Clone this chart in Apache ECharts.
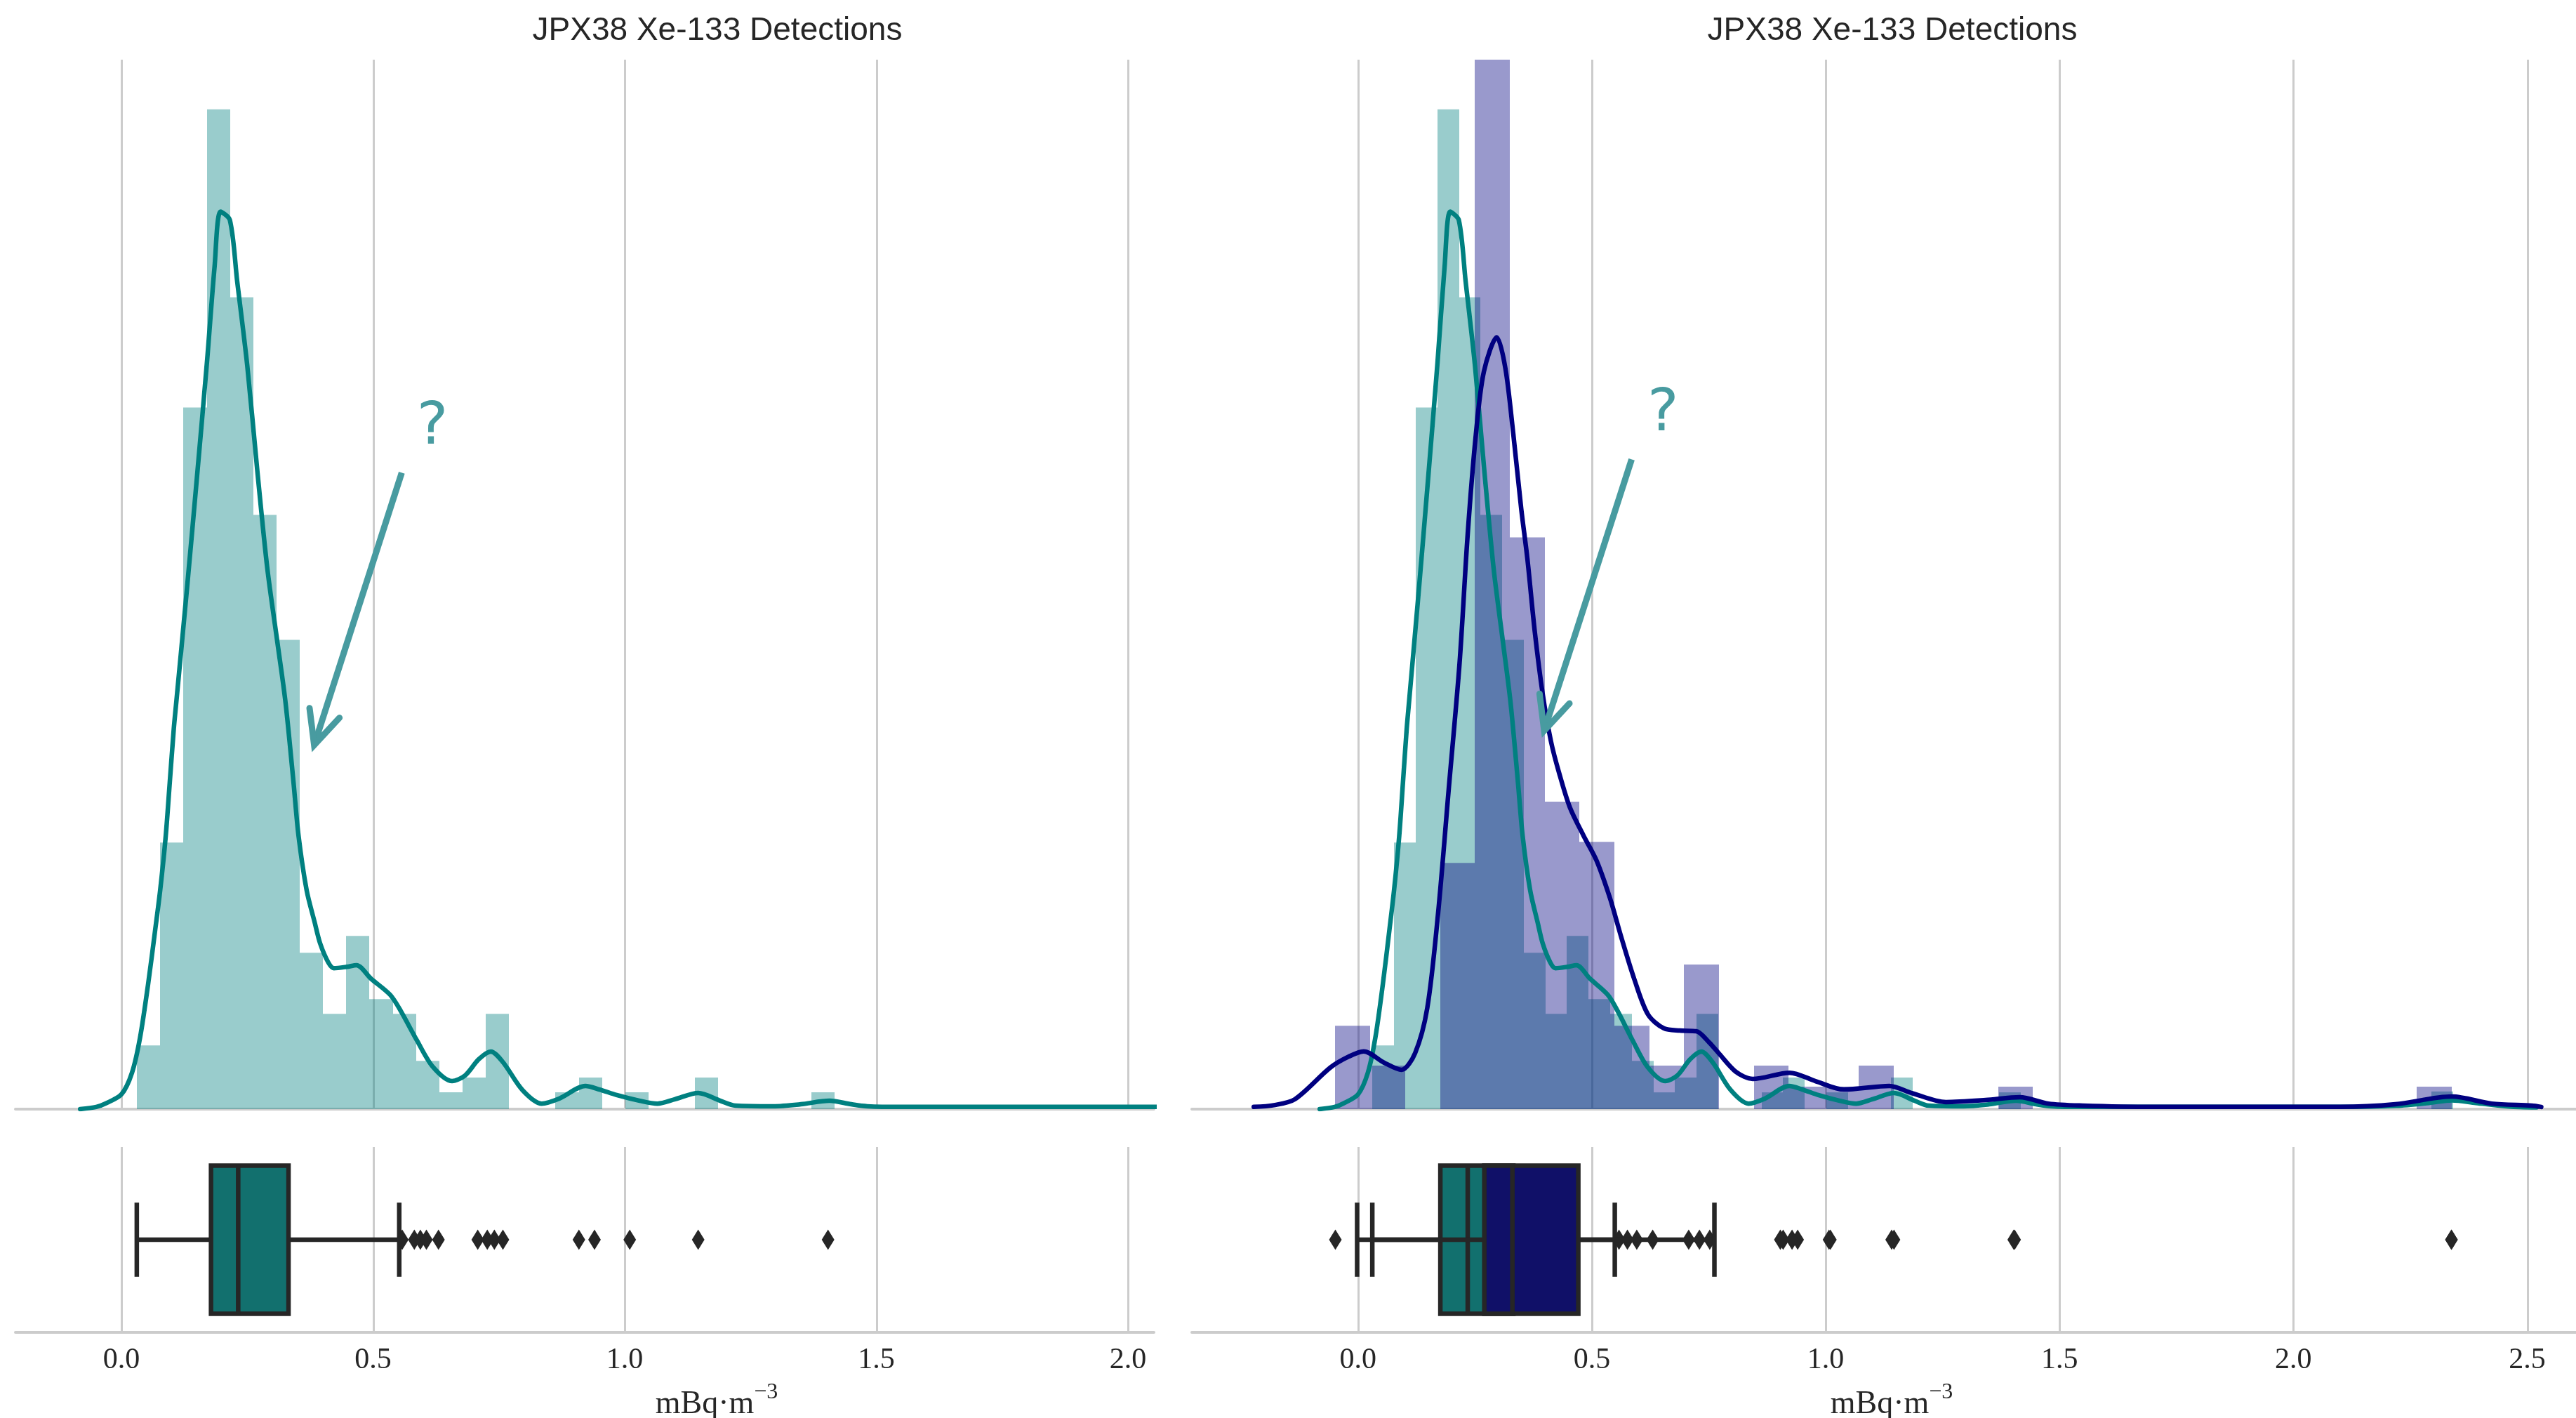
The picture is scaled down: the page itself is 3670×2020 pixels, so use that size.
<!DOCTYPE html>
<html><head><meta charset="utf-8">
<script src="https://cdn.jsdelivr.net/npm/echarts@6/dist/echarts.min.js"></script>
<style>html,body{margin:0;padding:0;background:#fff}#c{width:3670px;height:2020px}</style>
</head><body><div id="c"></div><script>
// ---------------- data ----------------
const TITLE = 'JPX38 Xe-133 Detections';
const X_LABEL_BASE = 'mBq·m';
const X_LABEL_EXP = '−3';
const ticksLeft = [0, 0.5, 1.0, 1.5, 2.0];
const ticksRight = [0, 0.5, 1.0, 1.5, 2.0, 2.5];
const Y_MAX = 4.756;

// teal histogram (density), bins start / width
const tealBinStart = 0.031, tealBinWidth = 0.0462;
const tealHistLeft = [0.289,1.208,3.180,4.531,3.679,2.693,2.127,0.709,0.432,0.785,0.499,0.432,0.219,0.076,0.143,0.432,0,0,0.076,0.143,0,0.076,0,0,0.143,0,0,0,0,0.076];
const tealHistRight = [0.289,1.208,3.180,4.531,3.679,2.693,2.127,0.709,0.432,0.785,0.499,0.432,0.219,0.076,0.143,0.432,0,0,0.076,0.143,0,0.076,0,0,0.143,0,0,0,0,0.076,
  0,0,0,0,0,0,0,0,0,0,0,0,0,0,0,0,0,0,0,0.08];
// navy histogram (density)
const navyBinStart = -0.0485, navyBinWidth = 0.07458;
const navyHist = [0.378,0.197,0,1.116,4.96,2.591,1.393,1.211,0.378,0.197,0.655,0,0.197,0.102,0.102,0.197,0,0,0,0.102,0,0,0,0,0,0,0,0,0,0,0,0.102];

// KDE curves [x, density]
const tealKde = [[-0.082,0],[-0.05,0.01],[-0.032,0.025],[0,0.067],[0.021,0.165],[0.037,0.324],[0.053,0.566],[0.067,0.811],[0.077,0.992],[0.088,1.237],[0.096,1.479],[0.104,1.723],[0.109,1.844],[0.13,2.353],[0.15,2.862],[0.17,3.386],[0.185,3.816],[0.197,4.067],[0.2155,4.029],[0.23,3.752],[0.25,3.370],[0.27,2.893],[0.29,2.448],[0.31,2.114],[0.326,1.844],[0.342,1.479],[0.352,1.237],[0.368,0.992],[0.384,0.846],[0.395,0.750],[0.411,0.665],[0.422,0.639],[0.448,0.645],[0.467,0.652],[0.496,0.591],[0.534,0.518],[0.555,0.445],[0.587,0.312],[0.619,0.191],[0.657,0.127],[0.683,0.153],[0.71,0.226],[0.734,0.261],[0.758,0.213],[0.797,0.086],[0.835,0.025],[0.87,0.048],[0.922,0.105],[0.95,0.089],[0.984,0.064],[1.03,0.038],[1.065,0.025],[1.1,0.045],[1.146,0.073],[1.19,0.038],[1.22,0.016],[1.295,0.013],[1.35,0.022],[1.407,0.038],[1.45,0.022],[1.482,0.013],[1.55,0.01]];
const tealKdeLeftTail = [[2.06,0.01]];
const tealKdeRightTail = [[2.1,0.01],[2.22,0.015],[2.29,0.028],[2.339,0.04],[2.39,0.028],[2.46,0.012],[2.52,0.008]];
const navyKde = [[-0.223,0.01],[-0.18,0.018],[-0.135,0.045],[-0.059,0.189],[-0.02,0.238],[0.012,0.262],[0.056,0.21],[0.093,0.178],[0.122,0.254],[0.148,0.458],[0.171,0.884],[0.194,1.453],[0.217,2.019],[0.2345,2.607],[0.252,3.059],[0.269,3.342],[0.2966,3.498],[0.315,3.358],[0.332,3.059],[0.349,2.719],[0.362,2.496],[0.378,2.162],[0.395,1.879],[0.4126,1.666],[0.43,1.523],[0.453,1.367],[0.482,1.24],[0.51,1.126],[0.539,0.954],[0.562,0.785],[0.591,0.587],[0.62,0.429],[0.654,0.366],[0.688,0.356],[0.723,0.353],[0.751,0.302],[0.771,0.254],[0.808,0.169],[0.844,0.137],[0.923,0.165],[0.978,0.127],[1.039,0.089],[1.136,0.105],[1.184,0.073],[1.257,0.032],[1.342,0.041],[1.415,0.054],[1.476,0.025],[1.549,0.016],[1.7,0.01],[2.1,0.01],[2.218,0.022],[2.339,0.057],[2.424,0.025],[2.51,0.016],[2.53,0.01]];

// box plots [min, q1, median, q3, max]
const tealBoxLeft = [0.0305, 0.178, 0.232, 0.332, 0.552];
const tealOutliersLeft = [0.558,0.582,0.594,0.606,0.630,0.708,0.727,0.741,0.758,0.909,0.940,1.010,1.146,1.404];
const tealBoxRight = [0.0305, 0.176, 0.2345, 0.332, 0.549];
const tealOutliersRight = [0.558,0.576,0.596,0.630,0.707,0.730,0.752,0.909,0.940,1.010,1.146,1.404,2.338];
const navyBox = [-0.002, 0.27, 0.33, 0.471, 0.762];
const navyOutliers = [-0.0485, 0.903, 0.928, 1.007, 1.141, 1.402, 2.338];

// annotations (data coords of the hist panels)
const annotLeft = { q: [0.618, 3.084], from: [0.557, 2.884], to: [0.383, 1.650] };
const annotRight = { q: [0.652, 3.145], from: [0.585, 2.945], to: [0.398, 1.715] };

// ---------------- styling ----------------
const TEAL = '#008080', NAVY = '#000080';
const TEAL_BAR = 'rgba(0,128,128,0.4)', NAVY_BAR = 'rgba(0,0,128,0.4)';
const TEAL_BOX = '#12706e', NAVY_BOX = '#101068';
const DARK = '#262626', GRID = '#cccccc', ANNOT = '#489ba0';
const SERIF = '"Liberation Serif", serif';
const LINE_W = 6.5, BOX_W = 6.5;

const chart = echarts.init(document.getElementById('c'), null, { renderer: 'canvas' });

function histSeries(ax, start, width, heights, fill, z) {
  return {
    type: 'custom', xAxisIndex: ax, yAxisIndex: ax, z, silent: true,
    data: heights.map((h, i) => [start + i * width, start + (i + 1) * width, h]),
    encode: { x: [0, 1], y: 2 },
    renderItem: (p, api) => {
      const h = Math.min(api.value(2), Y_MAX);
      if (!(h > 0)) return null;
      const a = api.coord([api.value(0), h]);
      const b = api.coord([api.value(1), 0]);
      const x0 = Math.round(a[0]), x1 = Math.round(b[0]);
      return { type: 'rect', shape: { x: x0, y: a[1], width: x1 - x0, height: b[1] - a[1] }, style: { fill } };
    }
  };
}
function gridLines(ax, ticks, y0, y1) {
  return {
    type: 'custom', xAxisIndex: ax, yAxisIndex: ax, z: 1, silent: true,
    data: ticks.map(v => [v, y0, y1]), encode: { x: 0, y: [1, 2] },
    renderItem: (p, api) => {
      const a = api.coord([api.value(0), api.value(1)]);
      const b = api.coord([api.value(0), api.value(2)]);
      const x = Math.round(a[0]) + 0.5;
      return { type: 'line', shape: { x1: x, y1: a[1], x2: x, y2: b[1] }, style: { stroke: GRID, lineWidth: 3 } };
    }
  };
}
function kdeSeries(ax, data, color, z) {
  return { type: 'line', xAxisIndex: ax, yAxisIndex: ax, z, silent: true, data, showSymbol: false,
    smooth: 0.3, lineStyle: { color, width: LINE_W, cap: 'round', join: 'round' }, itemStyle: { color } };
}
function boxSeries(ax, stats, fill, z) {
  return {
    type: 'custom', xAxisIndex: ax, yAxisIndex: ax, z, silent: true,
    data: [stats.concat([0])], encode: { x: [0, 1, 2, 3, 4], y: 5 },
    renderItem: (p, api) => {
      const v = [0, 1, 2, 3, 4].map(i => api.value(i));
      const yc = api.value(5);
      const X = val => api.coord([val, yc])[0];
      const Y = api.coord([v[0], yc])[1];
      const boxH = api.size([0, 0.8])[1];
      const capH = boxH / 2;
      const L = { stroke: DARK, lineWidth: BOX_W };
      return { type: 'group', children: [
        { type: 'line', shape: { x1: X(v[0]), y1: Y, x2: X(v[1]), y2: Y }, style: L },
        { type: 'line', shape: { x1: X(v[3]), y1: Y, x2: X(v[4]), y2: Y }, style: L },
        { type: 'line', shape: { x1: X(v[0]), y1: Y - capH / 2, x2: X(v[0]), y2: Y + capH / 2 }, style: L },
        { type: 'line', shape: { x1: X(v[4]), y1: Y - capH / 2, x2: X(v[4]), y2: Y + capH / 2 }, style: L },
        { type: 'rect', shape: { x: X(v[1]), y: Y - boxH / 2, width: X(v[3]) - X(v[1]), height: boxH }, style: { fill, stroke: DARK, lineWidth: BOX_W } },
        { type: 'line', shape: { x1: X(v[2]), y1: Y - boxH / 2, x2: X(v[2]), y2: Y + boxH / 2 }, style: L }
      ] };
    }
  };
}
function outlierSeries(ax, vals, z) {
  return { type: 'scatter', xAxisIndex: ax, yAxisIndex: ax, z, silent: true,
    data: vals.map(v => [v, 0]), symbol: 'path://M0,-10L6,0L0,10L-6,0Z', symbolSize: [18, 29],
    itemStyle: { color: DARK, opacity: 1 } };
}

const xRangeL = { min: -0.2106, max: 2.0516 };
const xRangeR = { min: -0.3554, max: 2.6043 };
function xAxis(grid, range, labels, ticks) {
  return {
    type: 'value', gridIndex: grid, min: range.min, max: range.max, position: 'bottom',
    axisLine: { show: true, onZero: false, lineStyle: { color: GRID, width: 4 } },
    axisTick: { show: false }, splitLine: { show: false },
    axisLabel: labels ? { show: true, customValues: ticks, formatter: v => v.toFixed(1), color: DARK,
      fontFamily: SERIF, fontSize: 42, margin: 19 } : { show: false }
  };
}
function yAxisHist(grid) { return { type: 'value', gridIndex: grid, min: 0, max: Y_MAX, show: false }; }
function yAxisBox(grid) { return { type: 'value', gridIndex: grid, min: -0.5, max: 0.5, inverse: true, show: false }; }

const option = {
  animation: false,
  backgroundColor: '#ffffff',
  grid: [
    { left: 22, top: 85, width: 1622, height: 1495 },
    { left: 22, top: 1634, width: 1622, height: 264 },
    { left: 1698, top: 85, width: 1972, height: 1495 },
    { left: 1698, top: 1634, width: 1972, height: 264 }
  ],
  xAxis: [xAxis(0, xRangeL, false), xAxis(1, xRangeL, true, ticksLeft), xAxis(2, xRangeR, false), xAxis(3, xRangeR, true, ticksRight)],
  yAxis: [yAxisHist(0), yAxisBox(1), yAxisHist(2), yAxisBox(3)],
  series: [
    gridLines(0, ticksLeft, 0, Y_MAX),
    gridLines(1, ticksLeft, -0.5, 0.5),
    gridLines(2, ticksRight, 0, Y_MAX),
    gridLines(3, ticksRight, -0.5, 0.5),
    histSeries(0, tealBinStart, tealBinWidth, tealHistLeft, TEAL_BAR, 2),
    kdeSeries(0, tealKde.concat(tealKdeLeftTail), TEAL, 4),
    histSeries(2, tealBinStart, tealBinWidth, tealHistRight, TEAL_BAR, 2),
    histSeries(2, navyBinStart, navyBinWidth, navyHist, NAVY_BAR, 3),
    kdeSeries(2, tealKde.concat(tealKdeRightTail), TEAL, 4),
    kdeSeries(2, navyKde, NAVY, 5),
    boxSeries(1, tealBoxLeft, TEAL_BOX, 3),
    outlierSeries(1, tealOutliersLeft, 4),
    boxSeries(3, tealBoxRight, TEAL_BOX, 3),
    outlierSeries(3, tealOutliersRight, 4),
    boxSeries(3, navyBox, NAVY_BOX, 5),
    outlierSeries(3, navyOutliers, 6)
  ]
};
chart.setOption(option);

// ---------------- text + annotations ----------------
function arrowGraphics(grid, ann) {
  const s = chart.convertToPixel({ gridIndex: grid }, ann.from);
  const t = chart.convertToPixel({ gridIndex: grid }, ann.to);
  const q = chart.convertToPixel({ gridIndex: grid }, ann.q);
  const ang = Math.atan2(s[1] - t[1], s[0] - t[0]);
  const len = 53, da = 25 * Math.PI / 180;
  const a1 = [t[0] + len * Math.cos(ang - da), t[1] + len * Math.sin(ang - da)];
  const a2 = [t[0] + len * Math.cos(ang + da), t[1] + len * Math.sin(ang + da)];
  return [
    { type: 'line', z: 50, shape: { x1: s[0], y1: s[1], x2: t[0], y2: t[1] }, style: { stroke: ANNOT, lineWidth: 9, lineCap: 'butt' } },
    { type: 'polyline', z: 50, shape: { points: [a1, t, a2] }, style: { stroke: ANNOT, lineWidth: 9, lineCap: 'round', lineJoin: 'miter', fill: null } },
    { type: 'text', z: 50, x: q[0], y: q[1], style: { text: '?', font: '84px "DejaVu Sans"', fill: ANNOT, align: 'center', verticalAlign: 'middle' } }
  ];
}
function titleText(cx) {
  return { type: 'text', x: cx, y: 44, style: { text: TITLE, font: '46px "Liberation Sans"', fill: DARK, align: 'center', verticalAlign: 'middle' } };
}
function xLabel(cx) {
  return { type: 'text', x: cx, y: 1996, style: {
    text: '{a|' + X_LABEL_BASE + '}{b|' + X_LABEL_EXP + '}', align: 'center', verticalAlign: 'middle',
    rich: { a: { font: '46px "Liberation Serif"', fill: DARK, lineHeight: 56, verticalAlign: 'bottom' },
            b: { font: '32px "Liberation Serif"', fill: DARK, lineHeight: 34, verticalAlign: 'top' } } } };
}
chart.setOption({ graphic: [
  titleText(1022), titleText(2696), xLabel(1021), xLabel(2695),
  ...arrowGraphics(0, annotLeft), ...arrowGraphics(2, annotRight)
] });
</script></body></html>
